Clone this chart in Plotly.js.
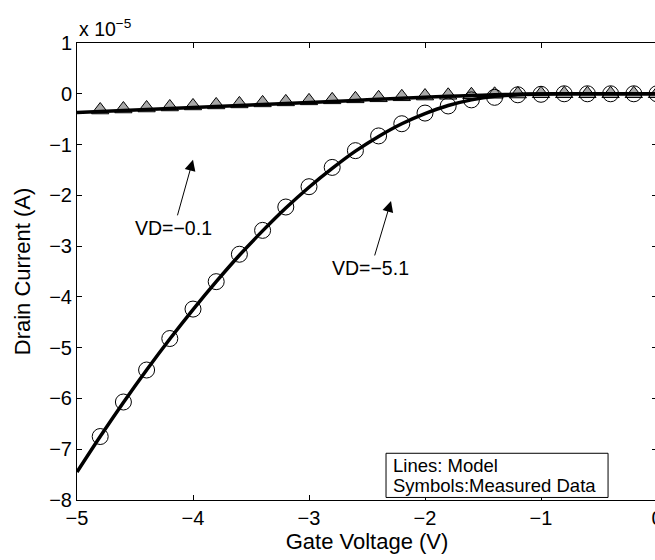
<!DOCTYPE html>
<html><head><meta charset="utf-8">
<script src="https://cdn.plot.ly/plotly-3.0.1.min.js"></script>
<style>html,body{margin:0;padding:0;overflow:hidden;background:#fff;width:655px;height:560px}#chart{width:700px;height:560px}</style>
</head><body><div id="chart"></div>
<script>
// Gate voltage (V)
const gateMeasured = [-4.8,-4.6,-4.4,-4.2,-4.0,-3.8,-3.6,-3.4,-3.2,-3.0,-2.8,-2.6,-2.4,-2.2,-2.0,-1.8,-1.6,-1.4,-1.2,-1.0,-0.8,-0.6,-0.4,-0.2,0.0];
const gateModel = [-5.0,-4.8,-4.6,-4.4,-4.2,-4.0,-3.8,-3.6,-3.4,-3.2,-3.0,-2.8,-2.6,-2.4,-2.2,-2.0,-1.8,-1.6,-1.4,-1.2,-1.0,-0.8,-0.6,-0.4,-0.2,0.0];
// Drain current, in units of 1e-5 A
const measVD51 = [-6.75,-6.07,-5.44,-4.82,-4.24,-3.70,-3.16,-2.69,-2.23,-1.83,-1.45,-1.12,-0.83,-0.59,-0.38,-0.24,-0.12,-0.07,-0.02,-0.01,0,0,0,0,0];
const measVD01 = [-0.32,-0.30,-0.28,-0.26,-0.24,-0.22,-0.20,-0.18,-0.16,-0.14,-0.12,-0.10,-0.08,-0.06,-0.045,-0.03,-0.02,-0.01,-0.005,0,0,0,0,0,0];
const modelVD51 = [-7.45,-6.75,-6.08,-5.44,-4.83,-4.25,-3.70,-3.18,-2.70,-2.25,-1.84,-1.47,-1.13,-0.84,-0.59,-0.39,-0.23,-0.12,-0.05,-0.02,-0.005,0,0,0,0,0];
const modelVD01 = [-0.37,-0.35,-0.33,-0.31,-0.29,-0.27,-0.25,-0.23,-0.21,-0.19,-0.17,-0.15,-0.13,-0.11,-0.09,-0.07,-0.05,-0.035,-0.02,-0.01,-0.004,0,0,0,0,0];
const xTicks = [-5,-4,-3,-2,-1,0];
const yTicks = [-8,-7,-6,-5,-4,-3,-2,-1,0,1];

const F = 'Liberation Sans, Arial, Helvetica, sans-serif';
const traces = [
  {x: gateMeasured, y: measVD01, mode:'markers', type:'scatter',
   marker:{symbol:'triangle-up', size:15, color:'#a8a8a8', line:{color:'#000', width:1}}},
  {x: gateMeasured, y: measVD51, mode:'markers', type:'scatter',
   marker:{symbol:'circle-open', size:16, color:'#000', line:{color:'#000', width:1}}},
  {x: gateModel, y: modelVD01, mode:'lines', type:'scatter', line:{color:'#000', width:3.5, shape:'spline'}},
  {x: gateModel, y: modelVD51, mode:'lines', type:'scatter', line:{color:'#000', width:3.5, shape:'spline'}}
];
const axisCommon = {showgrid:false, zeroline:false, showline:true, linecolor:'#000', linewidth:1,
  ticks:'inside', ticklen:5, tickcolor:'#000', mirror:'ticks', tickfont:{family:F, size:20, color:'#000'}};
const layout = {
  width:700, height:560, showlegend:false,
  margin:{l:77, r:43, t:43, b:60},
  paper_bgcolor:'#fff', plot_bgcolor:'#fff',
  xaxis: Object.assign({}, axisCommon, {range:[-5,0], tickvals:xTicks,
    title:{text:'Gate Voltage (V)', font:{family:F, size:22, color:'#000'}, standoff:3}}),
  yaxis: Object.assign({}, axisCommon, {range:[-8,1], tickvals:yTicks,
    title:{text:'Drain Current (A)', font:{family:F, size:22, color:'#000'}, standoff:12}}),
  annotations:[
    {xref:'paper', yref:'paper', x:0, y:1, xanchor:'left', yanchor:'bottom', yshift:1, showarrow:false,
     text:'x 10<sup>\u22125</sup>', font:{family:F, size:19.5, color:'#000'}},
    {x:-4.0, y:-1.30, ax:-4.164, ay:-2.64, axref:'x', ayref:'y', text:'VD=\u22120.1', showarrow:true,
     arrowhead:2, arrowsize:2.2, arrowwidth:1, arrowcolor:'#000', font:{family:F, size:19.5, color:'#000'}},
    {x:-2.293, y:-2.11, ax:-2.466, ay:-3.43, axref:'x', ayref:'y', text:'VD=\u22125.1', showarrow:true,
     arrowhead:2, arrowsize:2.2, arrowwidth:1, arrowcolor:'#000', font:{family:F, size:19.5, color:'#000'}},
    {x:-2.29, y:-7.33, xanchor:'left', showarrow:false, text:'Lines: Model', font:{family:F, size:18.5, color:'#000'}},
    {x:-2.29, y:-7.72, xanchor:'left', showarrow:false, text:'Symbols:Measured Data', font:{family:F, size:18.5, color:'#000'}}
  ],
  shapes:[
    {type:'rect', xref:'x', yref:'y', x0:-2.336, x1:-0.422, y0:-7.08, y1:-7.95, line:{color:'#000', width:1}, fillcolor:'#fff', layer:'above'}
  ]
};
Plotly.newPlot('chart', traces, layout, {displayModeBar:false, staticPlot:true});
</script></body></html>
